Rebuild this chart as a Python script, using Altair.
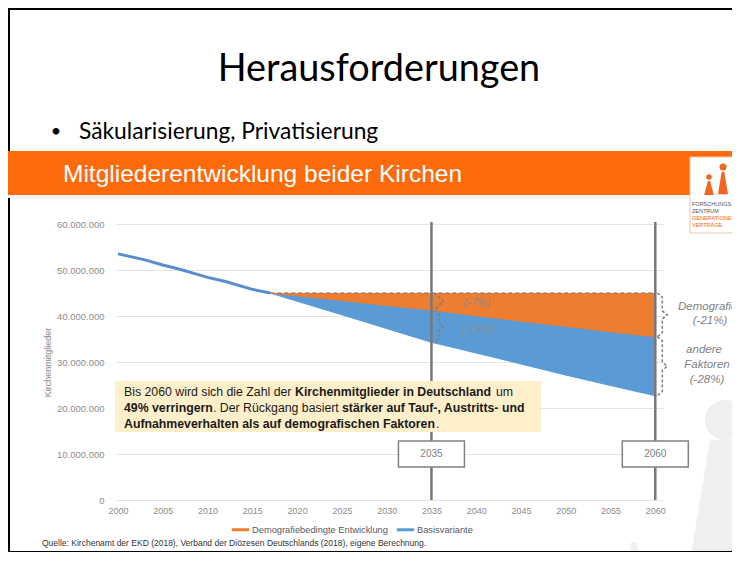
import altair as alt
import pandas as pd

# ---------------- data (millions of members) ----------------
hist_years = [2000, 2003, 2005, 2007, 2010, 2012, 2015, 2017]
hist_members = [53.5, 52.2, 51.1, 50.1, 48.4, 47.5, 45.8, 45.0]
proj_years = [2017, 2020, 2025, 2030, 2035, 2040, 2045, 2050, 2055, 2060]
basis_members = [45.0, 43.2, 40.3, 37.3, 34.3, 32.0, 29.6, 27.2, 24.9, 22.7]
demog_members = [45.0, 44.4, 43.4, 42.3, 41.3, 40.1, 38.9, 37.8, 36.6, 35.5]
series_names = ["Demografiebedingte Entwicklung", "Basisvariante"]
x_ticks = [2000, 2005, 2010, 2015, 2020, 2025, 2030, 2035, 2040, 2045, 2050, 2055, 2060]
y_ticks = [0, 10e6, 20e6, 30e6, 40e6, 50e6, 60e6]
marker_years = [2035, 2060]
marker_labels = ["2035", "2060"]

ORANGE = "#ed7d31"
BLUE = "#5b9bd5"
GRAY = "#7f7f7f"

# ---------------- geometry helpers ----------------
W, H = 548, 276
X0, Y0 = 115, 224          # screen position of plot origin
XDOM = [1999.66, 2060.86]
YPX = 60e6 / H             # value per pixel
XPX = (XDOM[1] - XDOM[0]) / W


def px(sx):
    return sx - X0


def py(sy):
    return sy - Y0


one = pd.DataFrame({"d": [0]})


def txt(s, sx, sy, size, color="#000000", font="Liberation Sans", weight="normal",
        style="normal", align="left", baseline="middle", opacity=1.0):
    return alt.Chart(one).mark_text(
        text=s, font=font, fontSize=size, color=color, fontWeight=weight,
        fontStyle=style, align=align, baseline=baseline, opacity=opacity
    ).encode(x=alt.value(px(sx)), y=alt.value(py(sy)))


def box(sx1, sy1, sx2, sy2, fill=None, stroke=None, sw=1.0):
    kw = {}
    if fill is not None:
        kw["fill"] = fill
    else:
        kw["fillOpacity"] = 0
    if stroke is not None:
        kw["stroke"] = stroke
        kw["strokeWidth"] = sw
    return alt.Chart(one).mark_rect(**kw).encode(
        x=alt.value(px(sx1)), x2=alt.value(px(sx2)),
        y=alt.value(py(sy1)), y2=alt.value(py(sy2)))


def shape(path, sx, sy, size, color):
    return alt.Chart(one).mark_point(
        shape=path, size=size, filled=True, color=color, opacity=1, strokeWidth=0
    ).encode(x=alt.value(px(sx)), y=alt.value(py(sy)))


xs = alt.Scale(domain=XDOM, nice=False, zero=False)
ys = alt.Scale(domain=[0, 60e6], nice=False)
ax_x = alt.Axis(values=x_ticks, format="d", title=None, grid=False, domain=False,
                ticks=False, labelFont="Liberation Sans", labelFontSize=9,
                labelColor="#8c8c8c", labelPadding=6)
ax_y = alt.Axis(values=y_ticks, title="Kirchenmitglieder", grid=True,
                gridColor="#e4e4e4", gridWidth=1, domain=False, ticks=False,
                labelExpr="replace(replace(format(datum.value, ','), ',', '.'), ',', '.')",
                labelFont="Liberation Sans", labelFontSize=9.5, labelColor="#8c8c8c",
                labelPadding=11, titleFont="Liberation Sans", titleFontSize=9,
                titleColor="#8c8c8c", titleFontWeight="normal",
                titleX=-68, titleY=138, titleAlign="center", titleBaseline="middle")


def X(field="year"):
    return alt.X(f"{field}:Q", scale=xs, axis=ax_x)


def Y(field):
    return alt.Y(f"{field}:Q", scale=ys, axis=ax_y)


# ---------------- data frames ----------------
top_val = hist_members[-1] * 1e6
hist_df = pd.DataFrame({"year": hist_years, "value": [v * 1e6 for v in hist_members]})
proj_df = pd.DataFrame({
    "year": proj_years,
    "basis": [v * 1e6 for v in basis_members],
    "demog": [v * 1e6 for v in demog_members],
    "top": [top_val] * len(proj_years),
})
line_rows = []
for yr, v in zip(hist_years + proj_years[1:], hist_members + basis_members[1:]):
    line_rows.append({"year": yr, "value": v * 1e6, "series": series_names[1]})
for yr, v in zip(proj_years, demog_members):
    line_rows.append({"year": yr, "value": v * 1e6, "series": series_names[0]})
line_df = pd.DataFrame(line_rows)

marker_df = pd.DataFrame({"year": marker_years, "label": marker_labels,
                          "yv": [10e6] * len(marker_years)})
top_df = pd.DataFrame({"year": [proj_years[0], proj_years[-1]], "v": [top_val, top_val]})

# braces (dashed curly brackets) built from the data values
d35 = dict(zip(proj_years, zip(demog_members, basis_members)))
brace_specs = [
    (2035, 3, 9, top_val, d35[2035][0] * 1e6),
    (2035, 3, 9, d35[2035][0] * 1e6, d35[2035][1] * 1e6),
    (2060, 2, 10, top_val, d35[2060][0] * 1e6),
    (2060, 2, 10, d35[2060][0] * 1e6, d35[2060][1] * 1e6),
]
brace_rows = []
for bid, (yr, off, w, t, b) in enumerate(brace_specs):
    x0 = yr + off * XPX
    xm = x0 + 0.5 * w * XPX
    xt = x0 + w * XPX
    c = 4 * YPX
    mid = (t + b) / 2
    pts = [(x0, t), (xm, t - c), (xm, mid + c), (xt, mid), (xm, mid - c), (xm, b + c), (x0, b)]
    for i, (xx, yy) in enumerate(pts):
        brace_rows.append({"id": bid, "i": i, "year": xx, "v": yy})
brace_df = pd.DataFrame(brace_rows)

layers = []

# ---------------- slide decoration ----------------
# faint watermark figure bottom right
layers.append(shape("circle", 725, 420, 1600, "#efefef"))
layers.append(shape("M-0.25,-1 L0.42,-1 L0.6,1 L-0.58,1 Z", 725, 500, 14400, "#efefef"))
layers.append(shape("M-0.3,-1 L0.3,-1 L0.5,1 L-0.5,1 Z", 634, 552, 400, "#f1f1f1"))

# slide border
layers.append(box(9, 9, 780, 552, stroke="#000000", sw=2))

# title + bullet
layers.append(txt("Herausforderungen", 379, 70, 37.8, font="Lato", align="center"))
layers.append(txt("•", 56, 132, 18, font="Lato", align="center"))
layers.append(txt("Säkularisierung, Privatisierung", 79, 132, 22.8, font="Lato"))

# orange banner
layers.append(box(8, 151, 760, 195, fill="#fb6a0b"))
layers.append(box(8, 195, 760, 198, fill="#f4f4f4"))
layers.append(txt("Mitgliederentwicklung beider Kirchen", 63, 175, 24.5, color="#ffffff"))

# logo
layers.append(box(690, 157, 760, 233, fill="#ffffff", stroke="#f2c5a6", sw=1))
layers.append(shape("circle", 709, 177, 30, "#f26522"))
layers.append(shape("M-0.7,1 L-0.15,-1 L0.15,-1 L0.7,1 Z", 709, 188, 196, "#f26522"))
layers.append(shape("circle", 723, 167, 49, "#f26522"))
layers.append(shape("M-0.45,1 L-0.12,-1 L0.12,-1 L0.45,1 Z", 723, 183, 500, "#f26522"))
layers.append(shape("circle", 737, 177, 30, "#f26522"))
layers.append(shape("M-0.7,1 L-0.15,-1 L0.15,-1 L0.7,1 Z", 737, 188, 196, "#f26522"))
layers.append(txt("FORSCHUNGS", 692, 204, 5.5, color="#555555"))
layers.append(txt("ZENTRUM", 692, 211, 5.5, color="#555555"))
layers.append(txt("GENERATIONEN", 692, 218, 5.5, color="#f26522"))
layers.append(txt("VERTRÄGE", 692, 225, 5.5, color="#f26522"))

# ---------------- chart layers ----------------
layers.append(alt.Chart(proj_df).mark_area(color=BLUE, opacity=1).encode(
    x=X(), y=Y("basis"), y2="top"))
layers.append(alt.Chart(proj_df).mark_area(color=ORANGE, opacity=1).encode(
    x=X(), y=Y("demog"), y2="top"))
layers.append(alt.Chart(line_df).mark_line(strokeWidth=1.2).encode(
    x=X(), y=Y("value"),
    color=alt.Color("series:N",
                    scale=alt.Scale(domain=series_names, range=[ORANGE, BLUE]),
                    legend=alt.Legend(
                        title=None, orient="none", legendX=115, legendY=295,
                        direction="horizontal", symbolType="stroke",
                        symbolStrokeWidth=3, symbolSize=300, labelFont="Liberation Sans",
                        labelFontSize=9.3, labelColor="#595959", labelOffset=1,
                        columnPadding=2, padding=0))))
layers.append(alt.Chart(hist_df).mark_line(color="#5b8dcc", strokeWidth=3).encode(
    x=X(), y=Y("value")))
layers.append(alt.Chart(top_df).mark_line(color=GRAY, strokeWidth=1.3,
                                          strokeDash=[4, 3], opacity=0.8).encode(
    x=X(), y=Y("v")))
layers.append(alt.Chart(marker_df).mark_rule(color="#777777", strokeWidth=2.5).encode(
    x=X(), y=alt.value(-2), y2=alt.value(276)))
layers.append(alt.Chart(brace_df).mark_line(color=GRAY, strokeWidth=1.5,
                                            strokeDash=[3, 2]).encode(
    x=X(), y=Y("v"), detail="id:N", order="i:Q"))

# year boxes on the markers
layers.append(alt.Chart(marker_df).mark_point(
    shape="M-1,-0.394 L1,-0.394 L1,0.394 L-1,0.394 Z", size=4356, filled=True,
    fill="#ffffff", stroke="#808080", strokeWidth=1.5, opacity=1).encode(
    x=X(), y=Y("yv")))
layers.append(alt.Chart(marker_df).mark_text(
    font="Liberation Sans", fontSize=10, color="#808080").encode(
    x=X(), y=Y("yv"), text="label:N"))

# yellow explanation box
layers.append(box(115, 381, 541, 432, fill="#fdefc9"))
TB = "#1a1a1a"
layers.append(txt("Bis 2060 wird sich die Zahl der", 124, 392, 12.3, color=TB))
layers.append(txt("Kirchenmitglieder in Deutschland", 295, 392, 12.3, color=TB, weight="bold"))
layers.append(txt("um", 496, 392, 12.3, color=TB))
layers.append(txt("49% verringern", 124, 408, 12.3, color=TB, weight="bold"))
layers.append(txt(". Der Rückgang basiert", 213, 408, 12.3, color=TB))
layers.append(txt("stärker auf Tauf-, Austritts- und", 342, 408, 12.3, color=TB, weight="bold"))
layers.append(txt("Aufnahmeverhalten als auf demografischen Faktoren", 124, 424, 12.3,
                  color=TB, weight="bold"))
layers.append(txt(".", 436, 424, 12.3, color=TB))

# percentage annotations
layers.append(txt("(-7%)", 477, 303, 11, color="#8a8a8a", style="italic", align="center", opacity=0.9))
layers.append(txt("(-15%)", 478, 330, 11, color="#8a8a8a", style="italic", align="center", opacity=0.9))
layers.append(txt("Demografie", 678, 307, 11.5, color=GRAY, style="italic"))
layers.append(txt("(-21%)", 710, 321, 11.5, color=GRAY, style="italic", align="center"))
layers.append(txt("andere", 704, 350, 11.5, color=GRAY, style="italic", align="center"))
layers.append(txt("Faktoren", 707, 365, 11.5, color=GRAY, style="italic", align="center"))
layers.append(txt("(-28%)", 707, 380, 11.5, color=GRAY, style="italic", align="center"))

# source
layers.append(txt("Quelle: Kirchenamt der EKD (2018), Verband der Diözesen Deutschlands (2018), eigene Berechnung.",
                  42, 543, 8.5, color="#333333"))

chart = alt.layer(*layers).properties(
    width=W, height=H,
    autosize=alt.AutoSizeParams(type="none"),
    padding={"left": X0 - 8, "top": Y0 - 8, "right": 724 - (X0 - 8) - W,
             "bottom": 544 - (Y0 - 8) - H},
).configure_view(stroke=None)

chart.save("out.html", embed_options={"renderer": "svg", "actions": False})
